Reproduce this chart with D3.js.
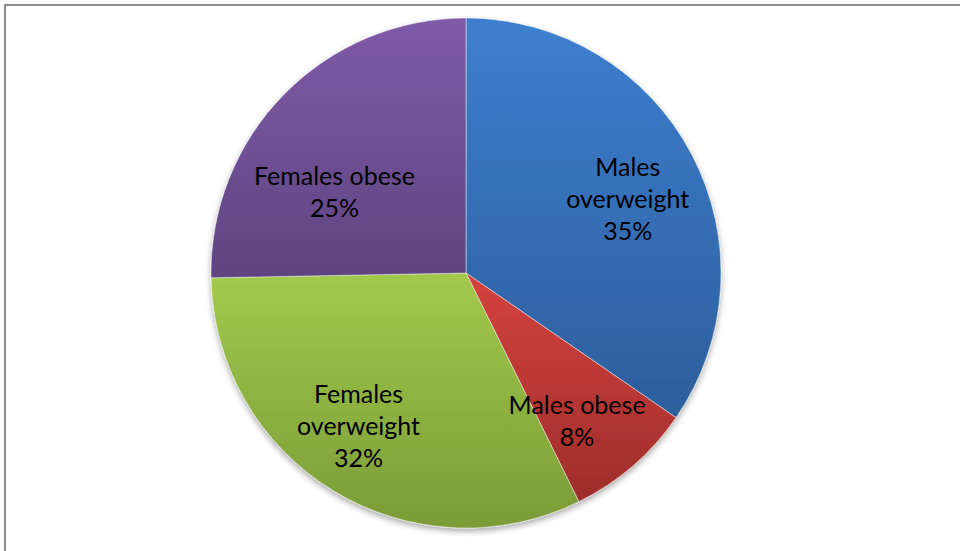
<!DOCTYPE html>
<html>
<head>
<meta charset="utf-8">
<script src="https://cdn.jsdelivr.net/npm/d3@7"></script>
<style>
  html, body { margin: 0; padding: 0; background: #ffffff; }
  svg { display: block; }
</style>
</head>
<body>
<svg id="chart" width="960" height="551"></svg>
<script>
// ---- data ----
const categories = ["Males overweight", "Males obese", "Females overweight", "Females obese"];
const labelLines = [["Males", "overweight"], ["Males obese"], ["Females", "overweight"], ["Females obese"]];
const values = [34.6, 8.1, 32.0, 25.3];
const percentLabels = ["35%", "8%", "32%", "25%"];

// ---- style / layout ----
const colorTop = ["#3d7fcf", "#d4423f", "#a2c94c", "#7f5ba8"];
const colorBottom = ["#2d5e9c", "#9e2d2a", "#7b9b37", "#5e4480"];
const labelNudge = [[6, 8], [-4, 15], [-16, 3], [-6, 42]];

const W = 960, H = 551;
const cx = 466, cy = 273, R = 255;
const lineH = 32;

const svg = d3.select("#chart");

// chart border (left and top visible)
svg.append("rect")
  .attr("x", 5).attr("y", 5)
  .attr("width", W + 20).attr("height", H + 20)
  .attr("fill", "#fff")
  .attr("stroke", "#8c8c8c")
  .attr("stroke-width", 2);

const defs = svg.append("defs");
const filt = defs.append("filter").attr("id", "shadow")
  .attr("x", "-10%").attr("y", "-10%").attr("width", "120%").attr("height", "120%");
filt.append("feGaussianBlur").attr("in", "SourceAlpha").attr("stdDeviation", 3).attr("result", "b");
filt.append("feOffset").attr("in", "b").attr("dx", 0).attr("dy", 3).attr("result", "o");
filt.append("feComponentTransfer").attr("in", "o").attr("result", "o2")
  .append("feFuncA").attr("type", "linear").attr("slope", 0.35);
const fm = filt.append("feMerge");
fm.append("feMergeNode").attr("in", "o2");
fm.append("feMergeNode").attr("in", "SourceGraphic");

categories.forEach((c, i) => {
  const g = defs.append("linearGradient").attr("id", "grad" + i)
    .attr("x1", 0).attr("y1", 0).attr("x2", 0).attr("y2", 1);
  g.append("stop").attr("offset", "0%").attr("stop-color", colorTop[i]);
  g.append("stop").attr("offset", "100%").attr("stop-color", colorBottom[i]);
});

const pie = d3.pie().sort(null).value(d => d)(values);
const arc = d3.arc().innerRadius(0).outerRadius(R);
const labelArc = d3.arc().innerRadius(R * 0.69).outerRadius(R * 0.69);

const g = svg.append("g").attr("transform", `translate(${cx},${cy})`);

g.append("g").attr("filter", "url(#shadow)")
  .selectAll("path")
  .data(pie)
  .join("path")
  .attr("d", arc)
  .attr("fill", (d, i) => `url(#grad${i})`)
  .attr("stroke", "rgba(255,255,255,0.45)")
  .attr("stroke-width", 1);

const labels = g.append("g")
  .selectAll("text")
  .data(pie)
  .join("text")
  .attr("text-anchor", "middle")
  .attr("font-family", "Lato, 'Open Sans', sans-serif")
  .attr("font-size", 25)
  .attr("fill", "#000")
  .each(function(d, i) {
    const [px, py] = labelArc.centroid(d);
    const x = px + labelNudge[i][0];
    const y = py + labelNudge[i][1];
    const lines = labelLines[i].concat([percentLabels[i]]);
    const n = lines.length;
    const first = y - (n - 1) / 2 * lineH + 9;
    d3.select(this).selectAll("tspan")
      .data(lines)
      .join("tspan")
      .attr("x", x)
      .attr("y", (t, k) => first + k * lineH)
      .text(t => t);
  });
</script>
</body>
</html>
